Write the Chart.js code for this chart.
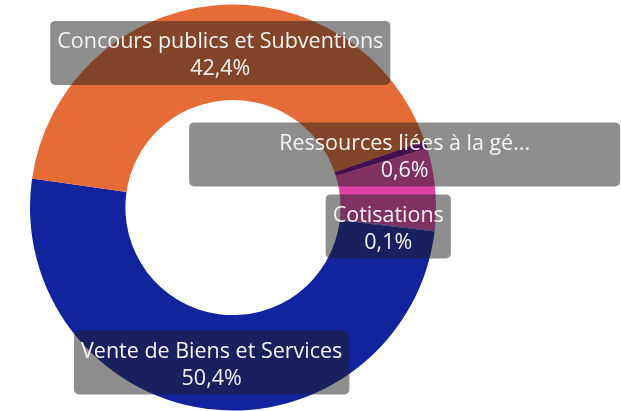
<!DOCTYPE html>
<html>
<head>
<meta charset="utf-8">
<script src="https://cdn.jsdelivr.net/npm/chart.js@4/dist/chart.umd.min.js"></script>
<style>
  html, body { margin: 0; padding: 0; background: #ffffff; }
  #wrap { width: 621px; height: 411px; }
</style>
</head>
<body>
<div id="wrap"><canvas id="donutChart" width="621" height="411"></canvas></div>
<script>
// Data
const categories = ['Vente de Biens et Services', 'Concours publics et Subventions', 'Ressources liées à la gé...', 'Autres', 'Cotisations'];
const shares = [50.4, 42.4, 0.6, 6.5, 0.1];
const showLabel = [true, true, true, false, true];

const colors = ['#12239E', '#E66C37', '#6B007B', '#E044A7', '#744EC2'];

// label box tweaks (offset from the arc centre, optional fixed width)
const labelStyle = [
    { dx: -1, dy: 1 },
    { dx: 2, dy: 0 },
    { dx: 24, dy: -5, width: 431 },
    {},
    { dx: 1, dy: 1 }
];

function fmtPct(v) {
    return v.toFixed(1).replace('.', ',') + '%';
}

const labelPlugin = {
    id: 'boxLabels',
    afterDatasetsDraw(chart) {
        const ctx = chart.ctx;
        const meta = chart.getDatasetMeta(0);
        ctx.save();
        ctx.font = '21.5px "Open Sans", "Noto Sans", sans-serif';
        ctx.textAlign = 'center';
        ctx.textBaseline = 'middle';
        meta.data.forEach((arc, i) => {
            if (!showLabel[i]) return;
            const pos = arc.tooltipPosition();
            const st = labelStyle[i];
            const cx = pos.x + (st.dx || 0);
            const cy = pos.y + (st.dy || 0);
            const line1 = categories[i];
            const line2 = fmtPct(shares[i]);
            const tw = Math.max(ctx.measureText(line1).width, ctx.measureText(line2).width);
            const w = st.width || tw + 14;
            const h = 64;
            ctx.fillStyle = 'rgba(30, 30, 30, 0.5)';
            ctx.beginPath();
            ctx.roundRect(cx - w / 2, cy - h / 2, w, h, 5);
            ctx.fill();
            ctx.fillStyle = '#f4f4f4';
            ctx.fillText(line1, cx, cy - 11);
            ctx.fillText(line2, cx, cy + 16);
        });
        ctx.restore();
    }
};

const donutCtx = document.getElementById('donutChart').getContext('2d');
const donutChart = new Chart(donutCtx, {
    type: 'doughnut',
    data: {
        labels: categories,
        datasets: [{
            data: shares,
            backgroundColor: colors,
            borderWidth: 0
        }]
    },
    options: {
        responsive: false,
        animation: false,
        cutout: '53%',
        rotation: 96.8,
        layout: {
            padding: { left: 30, right: 185, top: 4, bottom: 0 }
        },
        plugins: {
            legend: { display: false },
            tooltip: { enabled: false }
        }
    },
    plugins: [labelPlugin]
});
</script>
</body>
</html>
